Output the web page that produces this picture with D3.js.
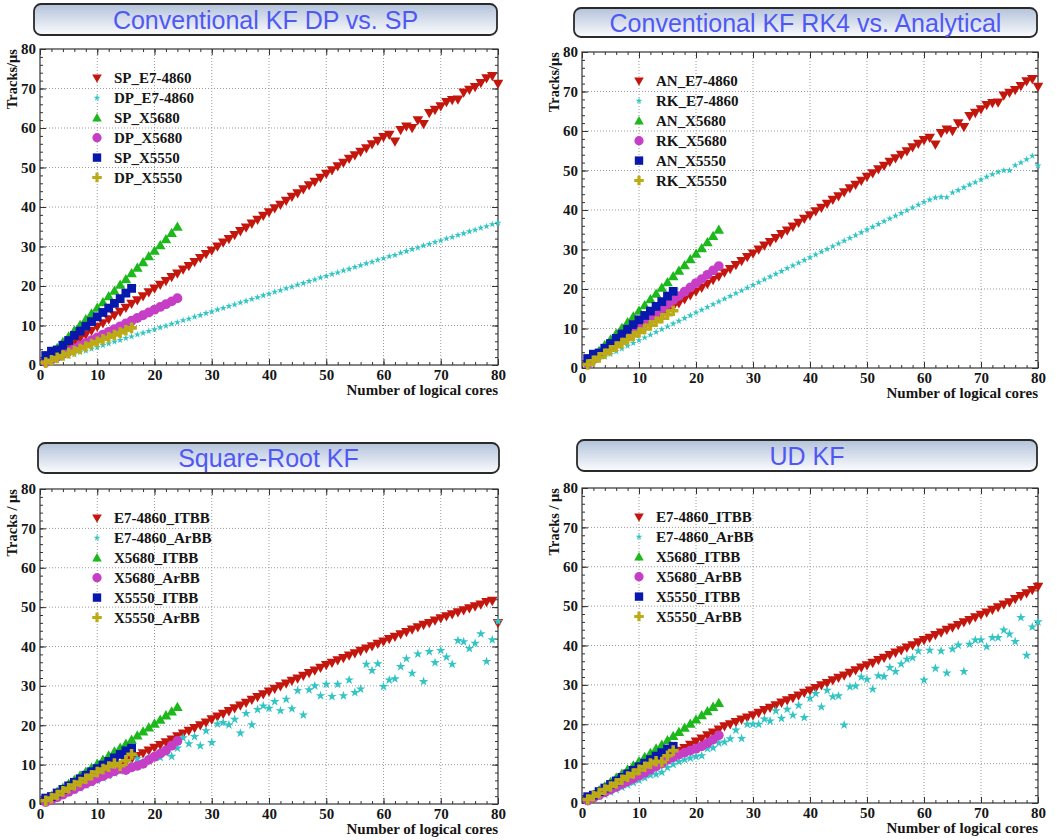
<!DOCTYPE html>
<html>
<head>
<meta charset="utf-8">
<script src="https://cdn.jsdelivr.net/npm/d3@7"></script>
<style>
body { margin: 0; background: #fff; }
svg text { font-family: "Liberation Serif", "Times New Roman", serif; font-weight: bold; fill: #151515; }
svg text.title { font-family: "Liberation Sans", Arial, sans-serif; font-weight: normal; fill: #5058f4; }
</style>
</head>
<body>
<svg id="chart" width="1060" height="840"></svg>
<script>
// ---- data ----
var titles = ["Conventional KF DP vs. SP", "Conventional KF RK4 vs. Analytical", "Square-Root KF", "UD KF"];
var yTitles = ["Tracks/\u03bcs", "Tracks/\u03bcs", "Tracks / \u03bcs", "Tracks / \u03bcs"];
var xTitle = "Number of logical cores";
var tickValues = [0, 10, 20, 30, 40, 50, 60, 70, 80];

var legendP1 = ["SP_E7-4860", "DP_E7-4860", "SP_X5680", "DP_X5680", "SP_X5550", "DP_X5550"];
var legendP2 = ["AN_E7-4860", "RK_E7-4860", "AN_X5680", "RK_X5680", "AN_X5550", "RK_X5550"];
var legendP3 = ["E7-4860_ITBB", "E7-4860_ArBB", "X5680_ITBB", "X5680_ArBB", "X5550_ITBB", "X5550_ArBB"];
var legendP4 = legendP3;

// panel 1 (x = 1..n logical cores)
var p1SpE7 = [1.0,1.9,2.9,3.9,4.8,5.8,6.8,7.7,8.7,9.7, 10.6,11.6,12.6,13.5,14.5,15.5,16.4,17.4,18.4,19.4,
    20.3,21.3,22.3,23.2,24.2,25.1,26.1,27.1,28.1,29.0, 30.0,31.0,31.9,32.9,33.9,34.8,35.8,36.8,37.8,38.7,
    39.7,40.6,41.6,42.6,43.5,44.5,45.5,46.4,47.4,48.4, 49.3,50.3,51.2,52.2,53.1,54.0,54.9,55.9,56.8,57.7,
    58.3,56.6,59.5,60.4,60.0,62.0,61.0,63.8,64.6,65.5, 66.6,67.1,67.2,69.0,69.7,70.4,71.4,72.6,73.2,71.2];
var p1DpE7 = [0.5,0.9,1.4,1.8,2.3,2.7,3.2,3.6,4.1,4.5, 5.0,5.4,5.9,6.3,6.8,7.2,7.7,8.1,8.6,9.0,
    9.5,9.9,10.4,10.8,11.3,11.7,12.2,12.6,13.1,13.5, 14.0,14.4,14.9,15.3,15.8,16.2,16.7,17.1,17.6,18.0,
    18.5,18.9,19.4,19.8,20.3,20.7,21.2,21.6,22.1,22.5, 23.0,23.4,23.9,24.3,24.8,25.2,25.7,26.1,26.6,27.0,
    27.5,27.8,28.4,28.8,29.3,29.7,30.2,30.6,31.1,31.5, 32.0,32.4,32.9,33.3,33.8,34.2,34.7,35.1,35.6,36.0];
var p1SpX5680 = [1.5,2.9,4.3,5.8,7.2,8.7,10.1,11.6,13.0,14.5,15.9,17.4,18.8,20.3,21.7,23.2,24.6,26.0,27.5,28.9,30.3,31.8,33.4,35.0];
var p1DpX5680 = [0.7,1.4,2.1,2.8,3.5,4.2,4.9,5.6,6.3,7.0,7.7,8.4,9.1,9.8,10.5,11.2,11.9,12.6,13.3,14.0,14.7,15.4,16.1,16.9];
var p1SpX5550 = [2.4,3.5,3.8,5.0,6.2,7.5,8.6,9.8,11.0,12.2,13.3,14.4,15.6,16.8,18.2,19.4];
var p1DpX5550 = [0.6,1.2,1.8,2.4,3.0,3.5,4.1,4.7,5.3,5.9,6.5,7.0,7.6,8.2,8.8,9.4];

// panel 2 (analytical series are the same runs as SP in panel 1)
var p2AnE7 = p1SpE7;
var p2RkE7 = [0.7,1.4,2.1,2.8,3.5,4.2,4.9,5.6,6.3,7.0, 7.7,8.4,9.1,9.8,10.5,11.2,11.9,12.6,13.3,14.0,
    14.7,15.4,16.1,16.8,17.5,18.2,18.9,19.6,20.3,21.0, 21.7,22.4,23.1,23.8,24.5,25.2,25.9,26.6,27.3,28.0,
    28.7,29.4,30.1,30.8,31.5,32.2,32.9,33.6,34.3,35.0, 35.7,36.4,37.1,37.8,38.5,39.2,39.9,40.6,41.3,42.0,
    42.6,43.1,43.3,43.2,44.4,45.0,45.7,46.4,47.0,47.7, 48.4,49.0,49.6,50.0,50.0,51.3,52.0,52.8,53.7,51.2];
var p2AnX5680 = p1SpX5680;
var p2RkX5680 = [1.1,2.2,3.3,4.3,5.4,6.5,7.5,8.6,9.7,10.8,11.8,12.9,14.0,15.0,16.1,17.2,18.2,19.3,20.4,21.5,22.5,23.6,24.7,25.8];
var p2AnX5550 = p1SpX5550;
var p2RkX5550 = [0.9,1.8,2.7,3.6,4.5,5.4,6.3,7.2,8.1,9.0,9.9,10.8,11.7,12.6,13.5,14.5];

// panel 3
var p3E7Itbb = [0.7,1.4,2.1,2.9,3.6,4.3,5.0,5.7,6.4,7.2, 7.9,8.6,9.3,10.0,10.7,11.4,12.2,12.9,13.6,14.3,
    15.0,15.7,16.4,17.2,17.9,18.6,19.3,20.0,20.7,21.5, 22.2,22.9,23.6,24.3,25.0,25.7,26.5,27.2,27.9,28.6,
    29.3,29.9,30.6,31.3,31.9,32.6,33.3,33.9,34.6,35.3, 35.9,36.5,37.1,37.7,38.3,38.9,39.5,40.1,40.7,41.3,
    41.9,42.5,43.1,43.7,44.3,44.9,45.5,46.0,46.6,47.2, 47.7,48.2,48.7,49.2,49.7,50.2,50.7,51.3,51.6,46.0];
var p3E7Arbb = [0.4,1.0,1.6,2.2,2.9,3.5,4.1,4.8,5.4,6.0, 6.6,7.2,7.9,8.4,9.0,9.8,11.5,10.8,11.6,12.3,
    11.8,12.9,12.1,14.2,16.8,15.3,17.1,14.8,18.6,15.6, 20.3,20.7,20.1,21.5,18.0,23.0,20.1,24.0,24.9,24.3,
    26.0,23.7,26.6,24.2,28.8,22.6,29.0,30.0,27.5,30.4, 27.3,30.4,27.5,31.5,28.3,29.2,35.5,33.9,35.6,29.8,
    31.5,31.8,34.9,36.9,33.2,38.1,31.1,38.7,35.9,39.0, 37.3,35.5,41.5,41.2,39.5,40.8,43.2,36.2,41.7,46.4];
var p3X5680Itbb = [1.0,2.0,3.1,4.1,5.1,6.1,7.2,8.2,9.2,10.2,11.2,12.3,13.3,14.3,15.3,16.3,17.4,18.4,19.4,20.4,21.4,22.5,23.5,24.6];
var p3X5680Arbb = [0.5,1.0,1.7,2.4,3.1,3.8,4.5,5.2,5.8,6.5,7.1,7.7,8.3,8.9,8.6,9.3,9.7,10.2,11.2,12.0,12.8,13.6,14.8,16.0];
var p3X5550Itbb = [1.5,1.9,2.8,3.7,4.6,5.5,6.4,7.3,8.2,9.0,9.9,10.8,11.7,12.6,13.5,14.2];
var p3X5550Arbb = [0.8,1.5,2.3,3.2,4.0,4.8,5.6,6.4,7.3,8.1,8.9,9.5,10.3,9.7,11.0,12.6];

// panel 4
var p4E7Itbb = [0.8,1.6,2.3,3.1,3.9,4.7,5.5,6.2,7.0,7.8, 8.6,9.4,10.1,10.9,11.7,12.5,13.3,14.0,14.8,15.6,
    16.4,17.2,17.9,18.7,19.5,20.0,20.6,21.2,21.7,22.3, 22.9,23.6,24.2,24.8,25.5,26.1,26.7,27.3,28.0,28.6,
    29.2,29.9,30.5,31.2,31.8,32.4,33.1,33.7,34.4,35.0, 35.6,36.3,36.9,37.6,38.2,38.8,39.5,40.1,40.8,41.4,
    42.0,42.7,43.3,44.0,44.6,45.2,45.9,46.5,47.2,47.8, 48.4,49.1,49.7,50.4,51.0,51.8,52.6,53.3,54.1,54.9];
var p4E7Arbb = [0.4,1.0,1.6,2.2,2.8,3.4,4.0,4.6,5.2,5.8, 6.4,7.1,7.3,7.8,9.0,9.8,10.5,11.0,11.4,11.8,
    12.0,13.8,14.0,15.2,15.5,16.3,18.5,16.4,20.0,20.0, 20.0,21.3,20.8,23.4,21.5,23.8,22.3,24.8,21.7,26.6,
    27.8,24.4,28.6,27.0,27.2,19.8,29.5,29.7,32.0,31.4, 28.9,32.3,32.1,34.4,33.4,35.3,36.5,36.9,38.6,31.2,
    38.8,34.2,38.6,33.0,39.1,40.1,33.4,40.3,41.4,41.4, 39.7,42.0,42.0,43.9,42.9,41.0,47.1,37.5,44.7,46.0];
var p4X5680Itbb = [1.1,2.1,3.2,4.2,5.3,6.4,7.4,8.5,9.5,10.6,11.7,12.7,13.8,14.8,15.9,17.0,18.0,19.1,20.1,21.2,22.3,23.3,24.4,25.4];
var p4X5680Arbb = [0.6,1.3,2.0,2.7,3.4,4.1,4.8,5.5,6.2,7.0,7.7,8.5,9.3,10.0,11.0,11.6,12.3,12.8,13.3,13.8,14.4,15.2,16.1,17.2];
var p4X5550Itbb = [1.6,2.0,2.9,3.8,4.7,5.6,6.5,7.4,8.3,9.2,10.1,11.0,11.9,12.8,13.7,14.4];
var p4X5550Arbb = [0.9,1.7,2.5,3.4,4.2,5.0,5.9,6.7,7.5,8.4,9.2,10.0,10.6,10.4,12.0,13.3];

// ---- layout / style ----
var panels = [
    {names: legendP1, series: [p1SpE7, p1DpE7, p1SpX5680, p1DpX5680, p1SpX5550, p1DpX5550],
     box: [34, 4, 463, 31], left: 40, right: 498, top: 49, bottom: 365, star: 3.7},
    {names: legendP2, series: [p2AnE7, p2RkE7, p2AnX5680, p2RkX5680, p2AnX5550, p2RkX5550],
     box: [574, 8, 463, 29], left: 582, right: 1038, top: 52, bottom: 368, star: 3.7},
    {names: legendP3, series: [p3E7Itbb, p3E7Arbb, p3X5680Itbb, p3X5680Arbb, p3X5550Itbb, p3X5550Arbb],
     box: [38, 443, 461, 30], left: 40, right: 498, top: 489, bottom: 804, star: 5.0},
    {names: legendP4, series: [p4E7Itbb, p4E7Arbb, p4X5680Itbb, p4X5680Arbb, p4X5550Itbb, p4X5550Arbb],
     box: [577, 440, 460, 31], left: 582, right: 1038, top: 488, bottom: 803, star: 5.0}
];
var markerKinds = ["tdown", "star", "tup", "circle", "square", "cross"];
var markerColors = ["#c3160d", "#33c4c4", "#1cb81c", "#c63ec6", "#0818ac", "#bcab16"];

function markerPath(kind, r) {
    if (kind === "tdown") return "M" + (-r) + "," + (-r * 0.75) + "L" + r + "," + (-r * 0.75) + "L0," + r + "Z";
    if (kind === "tup") return "M" + (-r) + "," + (r * 0.75) + "L" + r + "," + (r * 0.75) + "L0," + (-r) + "Z";
    if (kind === "square") return "M" + (-r) + "," + (-r) + "H" + r + "V" + r + "H" + (-r) + "Z";
    if (kind === "circle") return d3.symbol(d3.symbolCircle, Math.PI * r * r)();
    if (kind === "star") return d3.symbol(d3.symbolStar, r * r / 0.8908)();
    var a = r / 3;
    return "M" + (-a) + "," + (-r) + "H" + a + "V" + (-a) + "H" + r + "V" + a + "H" + a + "V" + r +
        "H" + (-a) + "V" + a + "H" + (-r) + "V" + (-a) + "H" + (-a) + "Z";
}

function markerSize(kind, p) {
    if (kind === "star") return p.star;
    if (kind === "square") return 4.4;
    if (kind === "circle") return 4.9;
    return 5.3;
}

function legendSize(kind) {
    if (kind === "star") return 3.6;
    if (kind === "square") return 4.2;
    if (kind === "circle") return 4.6;
    return 4.8;
}

var svg = d3.select("#chart");
var grad = svg.append("defs").append("linearGradient")
        .attr("id", "titleGrad")
        .attr("x1", 0).attr("y1", 0).attr("x2", 0).attr("y2", 1);
grad.append("stop").attr("offset", "0%").attr("stop-color", "#b3c2d9");
grad.append("stop").attr("offset", "100%").attr("stop-color", "#fbfcfe");

panels.forEach(function (p, pi) {
    var g = svg.append("g");

    // title box
    g.append("rect")
            .attr("x", p.box[0]).attr("y", p.box[1])
            .attr("width", p.box[2]).attr("height", p.box[3])
            .attr("rx", 7)
            .attr("fill", "url(#titleGrad)")
            .attr("stroke", "#2a2a2a").attr("stroke-width", 1.8);
    g.append("text")
            .attr("class", "title")
            .attr("x", p.box[0] + p.box[2] / 2)
            .attr("y", p.box[1] + p.box[3] / 2 + 9)
            .attr("text-anchor", "middle")
            .style("font-size", "25px")
            .text(titles[pi]);

    var x = d3.scaleLinear().domain([0, 80]).range([p.left, p.right]);
    var y = d3.scaleLinear().domain([0, 80]).range([p.bottom, p.top]);

    // grid
    g.append("g").selectAll("line").data(tickValues.slice(1, -1)).enter().append("line")
            .attr("x1", function (d) { return x(d); }).attr("x2", function (d) { return x(d); })
            .attr("y1", p.top).attr("y2", p.bottom)
            .attr("stroke", "#9a9a9a").attr("stroke-dasharray", "1,2");
    g.append("g").selectAll("line").data(tickValues.slice(1, -1)).enter().append("line")
            .attr("y1", function (d) { return y(d); }).attr("y2", function (d) { return y(d); })
            .attr("x1", p.left).attr("x2", p.right)
            .attr("stroke", "#9a9a9a").attr("stroke-dasharray", "1,2");

    // axes, ticks pointing inward on all four sides
    var minor = d3.range(0, 81, 2);
    var axes = [
        {axis: d3.axisBottom(x), t: "translate(0," + p.bottom + ")", labels: true},
        {axis: d3.axisTop(x), t: "translate(0," + p.top + ")", labels: false},
        {axis: d3.axisLeft(y), t: "translate(" + p.left + ",0)", labels: true},
        {axis: d3.axisRight(y), t: "translate(" + p.right + ",0)", labels: false}
    ];
    axes.forEach(function (a) {
        var gm = g.append("g").attr("transform", a.t)
                .call(a.axis.tickValues(minor).tickSize(-3).tickFormat(""));
        gm.select(".domain").remove();
        var gM = g.append("g").attr("transform", a.t)
                .call(a.axis.tickValues(tickValues).tickSize(-6).tickPadding(4)
                        .tickFormat(a.labels ? d3.format("d") : ""));
        gM.select(".domain").remove();
        g.selectAll("line").filter(function () { return !this.getAttribute("stroke-dasharray"); })
                .attr("stroke", "#333");
        gM.selectAll("text")
                .attr("fill", "#151515")
                .style("font-family", "'Liberation Serif', serif")
                .style("font-weight", "bold")
                .style("font-size", "15px");
    });

    g.append("rect")
            .attr("x", p.left).attr("y", p.top)
            .attr("width", p.right - p.left).attr("height", p.bottom - p.top)
            .attr("fill", "none").attr("stroke", "#333").attr("stroke-width", 1.2);

    // axis titles
    g.append("text")
            .attr("x", p.right).attr("y", p.bottom + 30)
            .attr("text-anchor", "end")
            .style("font-size", "15px")
            .text(xTitle);
    g.append("text")
            .attr("transform", "translate(" + (p.left - 23) + "," + p.top + ") rotate(-90)")
            .attr("text-anchor", "end")
            .style("font-size", "14.5px")
            .text(yTitles[pi]);

    // data markers, drawn in legend order
    p.series.forEach(function (values, si) {
        var kind = markerKinds[si];
        var path = markerPath(kind, markerSize(kind, p));
        g.append("g").selectAll("path").data(values).enter().append("path")
                .attr("d", path)
                .attr("fill", markerColors[si])
                .attr("transform", function (v, i) {
                    return "translate(" + x(i + 1) + "," + y(v) + ")";
                });
    });

    // legend
    var lg = g.append("g").attr("transform", "translate(" + (p.left + 57) + "," + (p.top + 29) + ")");
    p.names.forEach(function (name, si) {
        var kind = markerKinds[si];
        lg.append("path")
                .attr("d", markerPath(kind, legendSize(kind)))
                .attr("fill", markerColors[si])
                .attr("transform", "translate(0," + (si * 19.9) + ")");
        lg.append("text")
                .attr("x", 17).attr("y", si * 19.9)
                .attr("dy", "0.35em")
                .style("font-size", "15px")
                .text(name);
    });
});
</script>
</body>
</html>
